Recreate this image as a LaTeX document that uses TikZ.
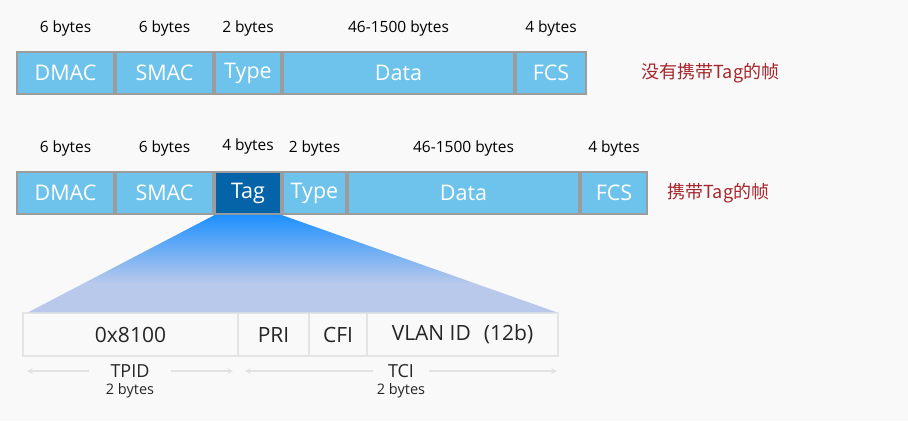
\documentclass[tikz,border=0pt]{standalone}
\usepackage{fontspec}
\setmainfont{Open Sans}
\newfontfamily\cjk{Noto Sans CJK SC}
\usetikzlibrary{positioning,arrows}

\definecolor{bgcol}{HTML}{F9F9F9}
\definecolor{fieldblue}{HTML}{6EC3EC}
\definecolor{tagblue}{HTML}{0563A8}
\definecolor{boxline}{HTML}{9C9C9C}
\definecolor{subline}{HTML}{E4E4E4}
\definecolor{spanline}{HTML}{E2E2E2}
\definecolor{notered}{HTML}{A4262C}
\definecolor{fanhi}{HTML}{1E90FF}
\definecolor{fanlo}{HTML}{B8C9EB}
\pgfdeclareverticalshading{tagfan}{100bp}{color(0bp)=(fanlo); color(40bp)=(fanlo); color(75bp)=(fanhi); color(100bp)=(fanhi)}

\begin{document}
\begin{tikzpicture}[x=1pt,y=-1pt,>=stealth,node distance=45pt,
    field/.style={draw=boxline,line width=1.6pt,fill=fieldblue,text=white,minimum height=42pt,inner sep=0pt,outer sep=0pt,font=\fontsize{21.5}{24}\selectfont},
    tagfield/.style={field,fill=tagblue},
    bytes/.style={font=\fontsize{15.5}{18}\selectfont,text=black},
    sub/.style={draw=subline,line width=1.2pt,fill=bgcol,text=black!85,minimum height=43pt,inner sep=0pt,outer sep=0pt,font=\fontsize{21}{24}\selectfont},
    span/.style={<->,draw=spanline,line width=1.5pt},
    gap/.style={fill=bgcol,text=black!85,inner ysep=2pt,font=\fontsize{18}{21}\selectfont},
    small/.style={text=black!85,font=\fontsize{14.5}{17}\selectfont},
    note/.style={anchor=west,text=notered,font=\cjk\fontsize{18}{21}\selectfont}]

    \useasboundingbox[fill=bgcol] (0,0) rectangle (908,421);

    % frame without tag
    \node[field,minimum width=97pt] (1) at (65.5,73) {DMAC};
    \node[field,minimum width=97pt,right=2pt of 1] (2) {SMAC};
    \node[field,minimum width=66pt,right=2pt of 2] (3) {Type};
    \node[field,minimum width=231pt,right=2pt of 3] (4) {Data};
    \node[field,minimum width=70pt,right=2pt of 4] (5) {FCS};

    \node[bytes] (b1) [above of=1] {6 bytes};
    \node[bytes] (b2) [above of=2] {6 bytes};
    \node[bytes] (b3) [above of=3] {2 bytes};
    \node[bytes] (b4) [above of=4] {46-1500 bytes};
    \node[bytes] (b5) [above of=5] {4 bytes};

    \node[note] (n1) at (638,73) {没有携带Tag的帧};

    % frame with tag
    \node[field,minimum width=97pt] (6) at (65.5,193) {DMAC};
    \node[field,minimum width=97pt,right=2pt of 6] (7) {SMAC};
    \node[tagfield,minimum width=66pt,right=2pt of 7] (8) {Tag};
    \node[field,minimum width=63pt,right=2pt of 8] (9) {Type};
    \node[field,minimum width=231pt,right=2pt of 9] (10) {Data};
    \node[field,minimum width=66pt,right=2pt of 10] (11) {FCS};

    \node[bytes] (b6) [above of=6] {6 bytes};
    \node[bytes] (b7) [above of=7] {6 bytes};
    \node[bytes] (b8) [above of=8,yshift=2pt] {4 bytes};
    \node[bytes] (b9) [above of=9] {2 bytes};
    \node[bytes] (b10) [above of=10] {46-1500 bytes};
    \node[bytes] (b11) [above of=11] {4 bytes};

    \node[note] (n2) at (664,193) {携带Tag的帧};

    % tag fields
    \node[sub,minimum width=215pt] (12) at (130.5,334.5) {0x8100};
    \node[sub,minimum width=71pt,right=0pt of 12] (13) {PRI};
    \node[sub,minimum width=58pt,right=0pt of 13] (14) {CFI};
    \node[sub,minimum width=191pt,right=0pt of 14] (15) {VLAN ID\hspace{13pt}(12b)};

    \shade[shading=tagfan] ([yshift=-0.8pt]8.south west) -- ([yshift=-0.8pt]8.south east)
        -- ([xshift=-1pt,yshift=0.6pt]15.north east) -- ([xshift=5pt,yshift=0.6pt]12.north west) -- cycle;

    \coordinate (t1) at (27,371);
    \coordinate (t2) at (233,371);
    \coordinate (t3) at (245,371);
    \coordinate (t4) at (557,371);

    \draw[span] (t1) -- node[gap,inner xsep=22pt] (tpid) {TPID} (t2);
    \draw[span] (t3) -- node[gap,inner xsep=15pt] (tci) {TCI} (t4);

    \node[small] (s1) [below of=tpid,node distance=20pt] {2 bytes};
    \node[small] (s2) [below of=tci,node distance=20pt] {2 bytes};
\end{tikzpicture}
\end{document}
